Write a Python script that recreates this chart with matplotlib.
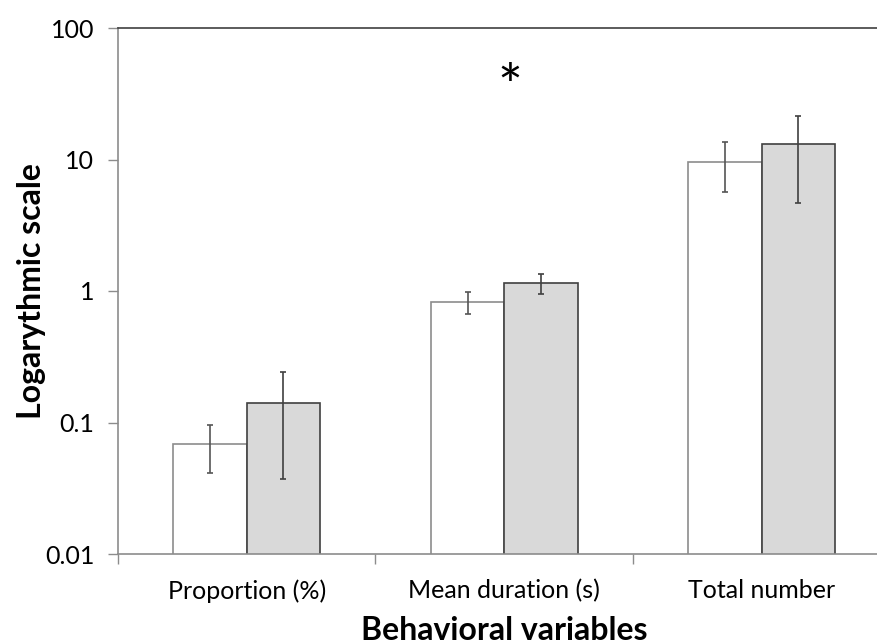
import numpy as np
import matplotlib.pyplot as plt

categories = ["Proportion (%)", "Mean duration (s)", "Total number"]
white_vals = [0.069, 0.83, 9.6]
white_lo = [0.041, 0.665, 5.65]
white_hi = [0.096, 0.98, 13.5]
gray_vals = [0.14, 1.15, 13.2]
gray_lo = [0.037, 0.945, 4.65]
gray_hi = [0.242, 1.34, 21.5]

plt.rcParams['font.family'] = ['Lato', 'DejaVu Sans']

fig = plt.figure(figsize=(8.78, 6.44), dpi=100)
ax = fig.add_axes([118 / 878, 1 - 554 / 644, 772.5 / 878, 526 / 644])

x = np.arange(len(categories))
w = 0.285

# barras
ax.bar(x - w / 2, white_vals, w, color="white", edgecolor="#8c8c8c", linewidth=1.2, zorder=2)
ax.bar(x + w / 2, gray_vals, w, color="#d9d9d9", edgecolor="#404040", linewidth=1.2, zorder=2)

# barras de error
w_err = [np.array(white_vals) - np.array(white_lo), np.array(white_hi) - np.array(white_vals)]
g_err = [np.array(gray_vals) - np.array(gray_lo), np.array(gray_hi) - np.array(gray_vals)]
ax.errorbar(x - w / 2, white_vals, yerr=w_err, fmt="none", ecolor="#555555",
            elinewidth=1.2, capsize=2.5, capthick=1.2, zorder=3)
ax.errorbar(x + w / 2, gray_vals, yerr=g_err, fmt="none", ecolor="#404040",
            elinewidth=1.2, capsize=2.5, capthick=1.2, zorder=3)

ax.set_yscale("log")
ax.set_ylim(0.01, 100)
ax.set_xlim(-0.5, 2.5)
ax.set_yticks([0.01, 0.1, 1, 10, 100])
ax.set_yticklabels(["0.01", "0.1", "1", "10", "100"])
ax.yaxis.set_minor_locator(plt.NullLocator())

ax.set_xticks(x)
ax.set_xticklabels(categories)
ax.set_xticks([-0.5, 0.5, 1.5, 2.5], minor=True)
ax.tick_params(axis="x", which="major", length=0, pad=18, labelsize=18)
ax.tick_params(axis="x", which="minor", length=7, width=1, color="#8c8c8c")
ax.tick_params(axis="y", length=7, width=1, color="#8c8c8c", pad=10, labelsize=18)

ax.spines["left"].set_color("#8c8c8c")
ax.spines["bottom"].set_color("#8c8c8c")
ax.spines["top"].set_color("#404040")
ax.spines["right"].set_visible(False)
for s in ax.spines.values():
    s.set_linewidth(1.2)

ax.text(1.02, 34, "*", ha="center", va="center", fontsize=42)

ax.set_ylabel("Logarythmic scale", fontsize=23, fontweight="bold", va="center")
ax.set_xlabel("Behavioral variables", fontsize=23, fontweight="bold", va="center")
ax.yaxis.set_label_coords(-(118 - 32) / 772.5, 0.5)
ax.xaxis.set_label_coords(0.5, -(630 - 554) / 526)

fig.savefig("out.png", dpi=100)
